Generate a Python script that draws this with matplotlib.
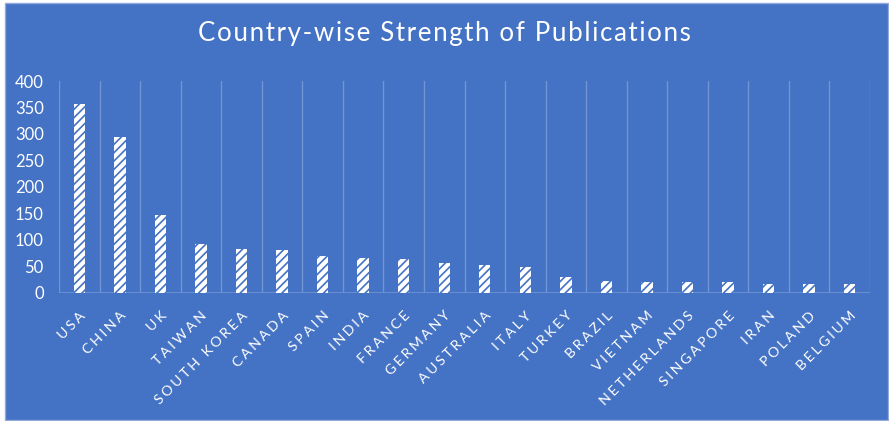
import matplotlib.pyplot as plt
from matplotlib.patches import Rectangle
import numpy as np

# publications per country
countries = ['USA', 'CHINA', 'UK', 'TAIWAN', 'SOUTH KOREA', 'CANADA', 'SPAIN',
             'INDIA', 'FRANCE', 'GERMANY', 'AUSTRALIA', 'ITALY', 'TURKEY',
             'BRAZIL', 'VIETNAM', 'NETHERLANDS', 'SINGAPORE', 'IRAN', 'POLAND',
             'BELGIUM']
publications = [356, 294, 147, 92, 82, 81, 69, 65, 63, 56, 53, 48, 29, 22, 20,
                20, 20, 17, 17, 16]
y_ticks = [0, 50, 100, 150, 200, 250, 300, 350, 400]

bg = '#4472C4'
grid_col = '#7194D3'


def spaced(s, gap='\u2009\u200a'):
    # loose letter spacing for the labels
    return gap.join(s)


def main():
    plt.rcParams['font.family'] = ['Lato', 'DejaVu Sans']
    plt.rcParams['hatch.linewidth'] = 1.2

    fig = plt.figure(figsize=(8.89, 4.21), dpi=100)
    fig.patch.set_facecolor('white')
    # chart panel with a thin light border
    fig.patches.append(Rectangle((5 / 889, 1 / 421), 883 / 889, 417 / 421,
                                 transform=fig.transFigure, facecolor=bg,
                                 edgecolor='#8FAADC', linewidth=1, zorder=-5))

    ax = fig.add_axes([59 / 889, (421 - 292.7) / 421, 811 / 889, 211.7 / 421])
    ax.set_facecolor('none')
    ax.set_zorder(2)

    x = np.arange(len(countries))
    ax.bar(x, publications, width=0.28, color='white', edgecolor=bg,
           hatch='////', linewidth=0, zorder=3)

    # vertical separators between categories
    for b in np.arange(len(countries) + 1) - 0.5:
        ax.axvline(b, color=grid_col, lw=1, zorder=1)
    ax.axhline(0, color=grid_col, lw=1.2, zorder=2)

    ax.set_xlim(-0.5, len(countries) - 0.5)
    ax.set_ylim(0, 400)
    ax.set_yticks(y_ticks)
    ax.set_yticklabels([str(v) for v in y_ticks], color='white', fontsize=12)
    ax.set_xticks(x)
    ax.set_xticklabels([spaced(c) for c in countries], rotation=45, ha='right',
                       rotation_mode='anchor', color='white', fontsize=10.2)
    ax.tick_params(axis='y', length=0, pad=11)
    ax.tick_params(axis='x', length=0, pad=12)
    for s in ax.spines.values():
        s.set_visible(False)

    fig.suptitle(spaced('Country-wise Strength of Publications', '\u200a'),
                 y=1 - 33 / 421, va='center', color='white', fontsize=18.6)

    fig.savefig('out.png', dpi=100, facecolor=fig.get_facecolor())


if __name__ == '__main__':
    main()
